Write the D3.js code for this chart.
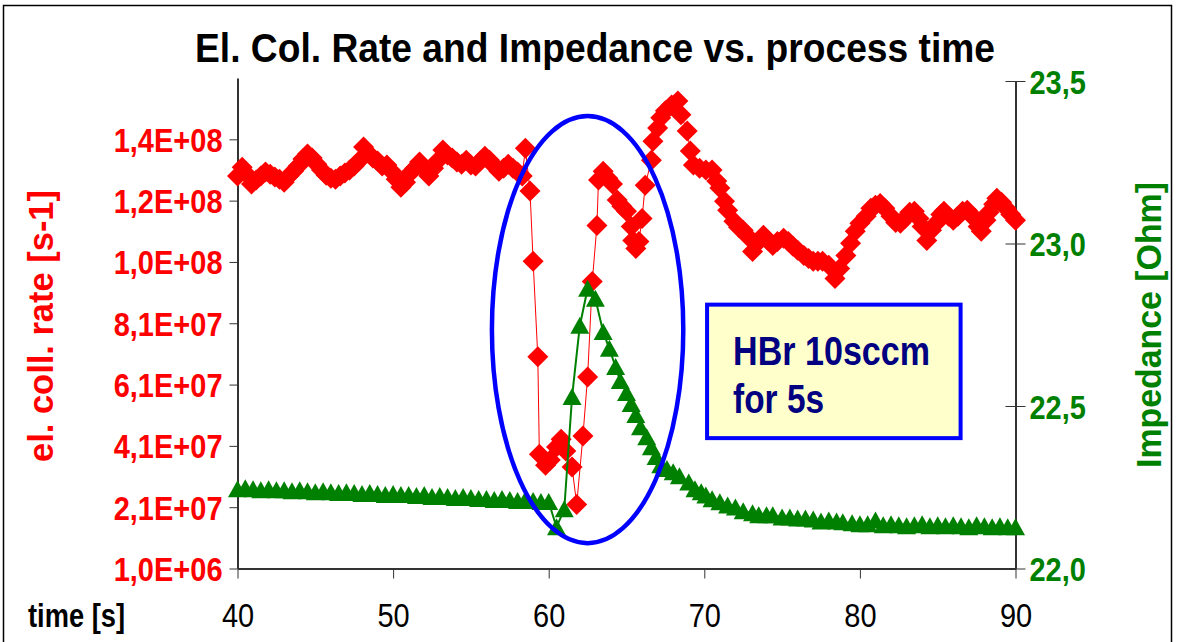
<!DOCTYPE html>
<html>
<head>
<meta charset="utf-8">
<script src="https://cdn.jsdelivr.net/npm/d3@7/dist/d3.min.js"></script>
<style>
body { margin: 0; background: #fff; }
text { font-family: "Liberation Sans", Arial, sans-serif; }
</style>
</head>
<body>
<div id="plot"></div>
<script>
var w = 1179;
var h = 642;
var plotLeft = 237.5, plotRight = 1015.5, plotBottom = 568.5;
var stretch = 1.15; // the original chart's text is a little taller than wide

var titleText = "El. Col. Rate and Impedance vs. process time";
var timeTicks = [40, 50, 60, 70, 80, 90];
var rateTicks = [1e6, 2.1e7, 4.1e7, 6.1e7, 8.1e7, 1.01e8, 1.21e8, 1.41e8];
var rateLabels = ["1,0E+06", "2,1E+07", "4,1E+07", "6,1E+07", "8,1E+07", "1,0E+08", "1,2E+08", "1,4E+08"];
var impTicks = [22.0, 22.5, 23.0, 23.5];
var impLabels = ["22,0", "22,5", "23,0", "23,5"];

// [time s, el. coll. rate s-1]
var redPoints = [
[40.0,1.290e8],[40.3,1.319e8],[40.6,1.296e8],[40.9,1.264e8],[41.2,1.277e8],[41.5,1.290e8],[41.8,1.303e8],[42.1,1.296e8],
[42.4,1.287e8],[42.7,1.280e8],[43.0,1.270e8],[43.3,1.290e8],[43.6,1.306e8],[43.9,1.323e8],[44.2,1.346e8],[44.5,1.362e8],
[44.8,1.349e8],[45.1,1.329e8],[45.4,1.310e8],[45.7,1.293e8],[46.0,1.283e8],[46.3,1.280e8],[46.6,1.290e8],[46.9,1.300e8],
[47.2,1.310e8],[47.5,1.323e8],[47.8,1.339e8],[48.1,1.385e8],[48.4,1.365e8],[48.7,1.349e8],[49.0,1.339e8],[49.3,1.323e8],
[49.6,1.326e8],[49.9,1.306e8],[50.2,1.280e8],[50.5,1.254e8],[50.8,1.270e8],[51.1,1.300e8],[51.4,1.316e8],[51.7,1.336e8],
[52.0,1.313e8],[52.3,1.290e8],[52.6,1.316e8],[52.9,1.342e8],[53.2,1.375e8],[53.5,1.359e8],[53.8,1.349e8],[54.1,1.336e8],
[54.4,1.329e8],[54.7,1.342e8],[55.0,1.326e8],[55.3,1.323e8],[55.6,1.339e8],[55.9,1.355e8],[56.2,1.342e8],[56.5,1.323e8],
[56.8,1.306e8],[57.1,1.316e8],[57.4,1.329e8],[57.7,1.316e8],[58.0,1.303e8],[58.3,1.290e8],[58.5,1.381e8],[58.8,1.241e8],
[59.0,1.012e8],[59.3,0.701e8],[59.4,0.383e8],[59.8,0.347e8],[60.1,0.364e8],[60.5,0.406e8],[60.8,0.432e8],[61.1,0.393e8],
[61.5,0.341e8],[61.8,0.219e8],[62.2,0.442e8],[62.5,0.635e8],[62.8,0.946e8],[63.1,1.129e8],[63.2,1.277e8],[63.5,1.306e8],
[63.8,1.283e8],[64.1,1.264e8],[64.4,1.212e8],[64.7,1.192e8],[65.0,1.175e8],[65.3,1.126e8],[65.4,1.080e8],[65.6,1.054e8],
[65.8,1.077e8],[66.0,1.152e8],[66.2,1.260e8],[66.6,1.342e8],[66.7,1.404e8],[67.0,1.447e8],[67.2,1.480e8],[67.5,1.503e8],
[67.9,1.522e8],[68.3,1.535e8],[68.5,1.490e8],[68.9,1.437e8],[69.1,1.372e8],[69.3,1.326e8],[69.7,1.316e8],[70.1,1.310e8],
[70.5,1.310e8],[70.8,1.274e8],[71.0,1.251e8],[71.3,1.208e8],[71.5,1.179e8],[71.9,1.143e8],[72.2,1.123e8],[72.5,1.113e8],
[72.8,1.093e8],[73.1,1.044e8],[73.5,1.077e8],[73.8,1.097e8],[74.1,1.080e8],[74.4,1.064e8],[74.7,1.077e8],[75.1,1.087e8],
[75.4,1.077e8],[75.7,1.061e8],[76.0,1.048e8],[76.4,1.031e8],[76.7,1.021e8],[77.0,1.012e8],[77.3,1.012e8],[77.6,1.012e8],
[78.0,0.999e8],[78.4,0.956e8],[78.7,0.989e8],[79.1,1.031e8],[79.4,1.071e8],[79.7,1.110e8],[80.0,1.136e8],[80.4,1.159e8],
[80.7,1.185e8],[81.0,1.195e8],[81.3,1.201e8],[81.6,1.185e8],[82.0,1.159e8],[82.3,1.139e8],[82.6,1.136e8],[82.9,1.152e8],
[83.2,1.172e8],[83.5,1.175e8],[83.8,1.152e8],[84.0,1.126e8],[84.3,1.080e8],[84.6,1.113e8],[84.9,1.136e8],[85.2,1.165e8],
[85.4,1.175e8],[85.7,1.159e8],[86.0,1.146e8],[86.3,1.159e8],[86.6,1.175e8],[86.9,1.179e8],[87.1,1.165e8],[87.4,1.152e8],
[87.6,1.126e8],[87.8,1.110e8],[88.1,1.146e8],[88.3,1.172e8],[88.6,1.198e8],[88.8,1.218e8],[89.1,1.205e8],[89.4,1.185e8],
[89.7,1.165e8],[90.0,1.146e8]
];

// [time s, impedance Ohm]
var greenPoints = [
[40.0,22.244],[40.5,22.247],[41.0,22.244],[41.5,22.241],[42.0,22.244],[42.5,22.241],[43.0,22.241],[43.5,22.238],
[44.0,22.241],[44.5,22.238],[45.0,22.235],[45.5,22.238],[46.0,22.235],[46.5,22.232],[47.0,22.235],[47.5,22.232],
[48.0,22.229],[48.5,22.232],[49.0,22.229],[49.5,22.226],[50.0,22.229],[50.5,22.226],[51.0,22.226],[51.5,22.223],
[52.0,22.226],[52.5,22.220],[53.0,22.223],[53.5,22.220],[54.0,22.217],[54.5,22.220],[55.0,22.217],[55.5,22.214],
[56.0,22.214],[56.5,22.211],[57.0,22.214],[57.5,22.211],[58.0,22.208],[58.5,22.211],[59.0,22.208],[59.5,22.205],
[60.0,22.205],[60.5,22.127],[61.0,22.182],[61.5,22.528],[62.0,22.747],[62.5,22.861],[63.0,22.830],[63.5,22.728],
[63.9,22.676],[64.3,22.620],[64.6,22.577],[65.0,22.540],[65.3,22.506],[65.6,22.472],[65.9,22.435],[66.3,22.404],
[66.6,22.373],[66.9,22.343],[67.2,22.318],[67.6,22.306],[68.0,22.296],[68.4,22.284],[69.0,22.265],[69.4,22.244],
[69.8,22.235],[70.1,22.225],[70.5,22.213],[71.0,22.204],[71.5,22.194],[72.0,22.188],[72.5,22.176],[73.1,22.170],
[73.5,22.164],[74.0,22.164],[74.4,22.164],[75.0,22.157],[75.5,22.157],[76.0,22.154],[76.5,22.154],[77.0,22.151],
[77.5,22.145],[78.0,22.148],[78.5,22.145],[78.9,22.142],[79.5,22.139],[80.0,22.136],[80.5,22.136],[81.0,22.148],
[81.5,22.133],[82.0,22.136],[82.5,22.133],[83.0,22.130],[83.5,22.133],[84.0,22.136],[84.5,22.130],[85.0,22.133],
[85.5,22.130],[86.0,22.133],[86.5,22.130],[87.0,22.127],[87.5,22.133],[88.0,22.130],[88.5,22.127],[89.0,22.130],
[89.5,22.127],[90.0,22.127]
];

// annotation: ellipse and box, in data units (time, impedance)
var ellipseCenter = [62.5, 22.735];
var ellipseRadius = [6.15, 0.657];
var noteBox = [70.05, 86.6, 22.818, 22.395];
var noteLines = ["HBr 10sccm", "for 5s"];

var xScale = d3.scaleLinear().domain([40, 90]).range([plotLeft, plotRight]);
var yRate = d3.scaleLinear().domain([1e6, 1.61e8]).range([plotBottom, 78]);
var yImp = d3.scaleLinear().domain([22, 23.5]).range([plotBottom, 81]);

var svg = d3.select("#plot").append("svg").attr("width", w).attr("height", h);

svg.append("rect")
	.attr("x", 3.5).attr("y", 5.5)
	.attr("width", 1168).attr("height", 640)
	.attr("fill", "white")
	.attr("stroke", "black")
	.attr("stroke-width", 1.5);

// places a stretched text at (x, y)
var addText = function(x, y, rot, str) {
	var t = svg.append("text")
		.attr("transform", "translate(" + x + "," + y + ")" + (rot ? " rotate(-90)" : "") + " scale(1," + stretch + ")")
		.text(str);
	return t;
}

addText(595, 62, false, titleText)
	.attr("text-anchor", "middle")
	.attr("font-size", 36)
	.attr("font-weight", "bold")
	.attr("textLength", 800)
	.attr("lengthAdjust", "spacingAndGlyphs");

// axes
var xAxis = d3.axisBottom(xScale).tickValues(timeTicks).tickSize(10).tickSizeOuter(0).tickFormat(d3.format("d"));
var gx = svg.append("g").attr("transform", "translate(0," + plotBottom + ")").call(xAxis);
gx.select(".domain").attr("stroke", "#333").attr("stroke-width", 2);
gx.selectAll(".tick line").attr("stroke", "#333");
gx.selectAll(".tick text")
	.attr("y", 0).attr("dy", null)
	.attr("transform", "translate(0,58) scale(1," + stretch + ")")
	.attr("font-size", 29)
	.attr("font-family", "Liberation Sans, Arial, sans-serif")
	.attr("fill", "black");

var yAxisL = d3.axisLeft(yRate).tickValues(rateTicks).tickSize(8).tickSizeOuter(0)
	.tickFormat(function(d, i) { return rateLabels[i]; });
var gl = svg.append("g").attr("transform", "translate(" + plotLeft + ",0)").call(yAxisL);
gl.select(".domain").attr("stroke", "#333").attr("stroke-width", 2);
gl.selectAll(".tick line").attr("stroke", "#333");
gl.selectAll(".tick text")
	.attr("x", -15).attr("dy", "0.36em")
	.attr("transform", "scale(1," + stretch + ")")
	.attr("font-size", 29)
	.attr("font-weight", "bold")
	.attr("font-family", "Liberation Sans, Arial, sans-serif")
	.attr("fill", "#FF0000");

var yAxisR = d3.axisRight(yImp).tickValues(impTicks).tickSize(10).tickSizeOuter(0)
	.tickFormat(function(d, i) { return impLabels[i]; });
var gr = svg.append("g").attr("transform", "translate(" + plotRight + ",0)").call(yAxisR);
gr.select(".domain").attr("stroke", "#333").attr("stroke-width", 2);
gr.selectAll(".tick line").attr("stroke", "#333").attr("x1", -10).attr("x2", 10);
gr.selectAll(".tick text")
	.attr("x", 14).attr("dy", "0.36em")
	.attr("transform", "scale(1," + stretch + ")")
	.attr("font-size", 29)
	.attr("font-weight", "bold")
	.attr("font-family", "Liberation Sans, Arial, sans-serif")
	.attr("fill", "#008000");

// axis titles
addText(53, 326, true, "el. coll. rate [s-1]")
	.attr("text-anchor", "middle")
	.attr("font-size", 30)
	.attr("font-weight", "bold")
	.attr("fill", "#FF0000")
	.attr("textLength", 272)
	.attr("lengthAdjust", "spacingAndGlyphs");

addText(1161, 325, true, "Impedance [Ohm]")
	.attr("text-anchor", "middle")
	.attr("font-size", 30)
	.attr("font-weight", "bold")
	.attr("fill", "#008000")
	.attr("textLength", 286)
	.attr("lengthAdjust", "spacingAndGlyphs");

addText(28, 627, false, "time [s]")
	.attr("font-size", 29)
	.attr("font-weight", "bold")
	.attr("textLength", 97)
	.attr("lengthAdjust", "spacingAndGlyphs");

// red series
var redLine = d3.line()
	.x(function(d) { return xScale(d[0]); })
	.y(function(d) { return yRate(d[1]); });

svg.append("path")
	.datum(redPoints)
	.attr("d", redLine)
	.attr("fill", "none")
	.attr("stroke", "#FF0000")
	.attr("stroke-width", 1);

svg.selectAll(".diamond")
	.data(redPoints)
	.enter()
	.append("path")
	.attr("class", "diamond")
	.attr("transform", function(d) { return "translate(" + xScale(d[0]) + "," + yRate(d[1]) + ")"; })
	.attr("d", "M0,-10.5L10.5,0L0,10.5L-10.5,0Z")
	.attr("fill", "#FF0000");

// green series
var greenLine = d3.line()
	.x(function(d) { return xScale(d[0]); })
	.y(function(d) { return yImp(d[1]); });

svg.append("path")
	.datum(greenPoints)
	.attr("d", greenLine)
	.attr("fill", "none")
	.attr("stroke", "#008000")
	.attr("stroke-width", 2);

svg.selectAll(".tri")
	.data(greenPoints)
	.enter()
	.append("path")
	.attr("class", "tri")
	.attr("transform", function(d) { return "translate(" + xScale(d[0]) + "," + yImp(d[1]) + ")"; })
	.attr("d", "M0,-9L9.5,8L-9.5,8Z")
	.attr("fill", "#008000");

// ellipse round the HBr pulse
svg.append("ellipse")
	.attr("cx", xScale(ellipseCenter[0]))
	.attr("cy", yImp(ellipseCenter[1]))
	.attr("rx", xScale(ellipseCenter[0] + ellipseRadius[0]) - xScale(ellipseCenter[0]))
	.attr("ry", yImp(ellipseCenter[1]) - yImp(ellipseCenter[1] + ellipseRadius[1]))
	.attr("fill", "none")
	.attr("stroke", "#0000FF")
	.attr("stroke-width", 4.5);

// note box
var bx0 = xScale(noteBox[0]), bx1 = xScale(noteBox[1]);
var by0 = yImp(noteBox[2]), by1 = yImp(noteBox[3]);
svg.append("rect")
	.attr("x", bx0 + 2).attr("y", by0 + 2)
	.attr("width", bx1 - bx0 - 4).attr("height", by1 - by0 - 4)
	.attr("fill", "#FFFFCC")
	.attr("stroke", "#0000FF")
	.attr("stroke-width", 4);

noteLines.forEach(function(d, i) {
	addText(bx0 + 28, by0 + 62 + i * 48, false, d)
		.attr("font-size", 35)
		.attr("font-weight", "bold")
		.attr("fill", "#000080")
		.attr("textLength", i == 0 ? 197 : 91)
		.attr("lengthAdjust", "spacingAndGlyphs");
});
</script>
</body>
</html>
